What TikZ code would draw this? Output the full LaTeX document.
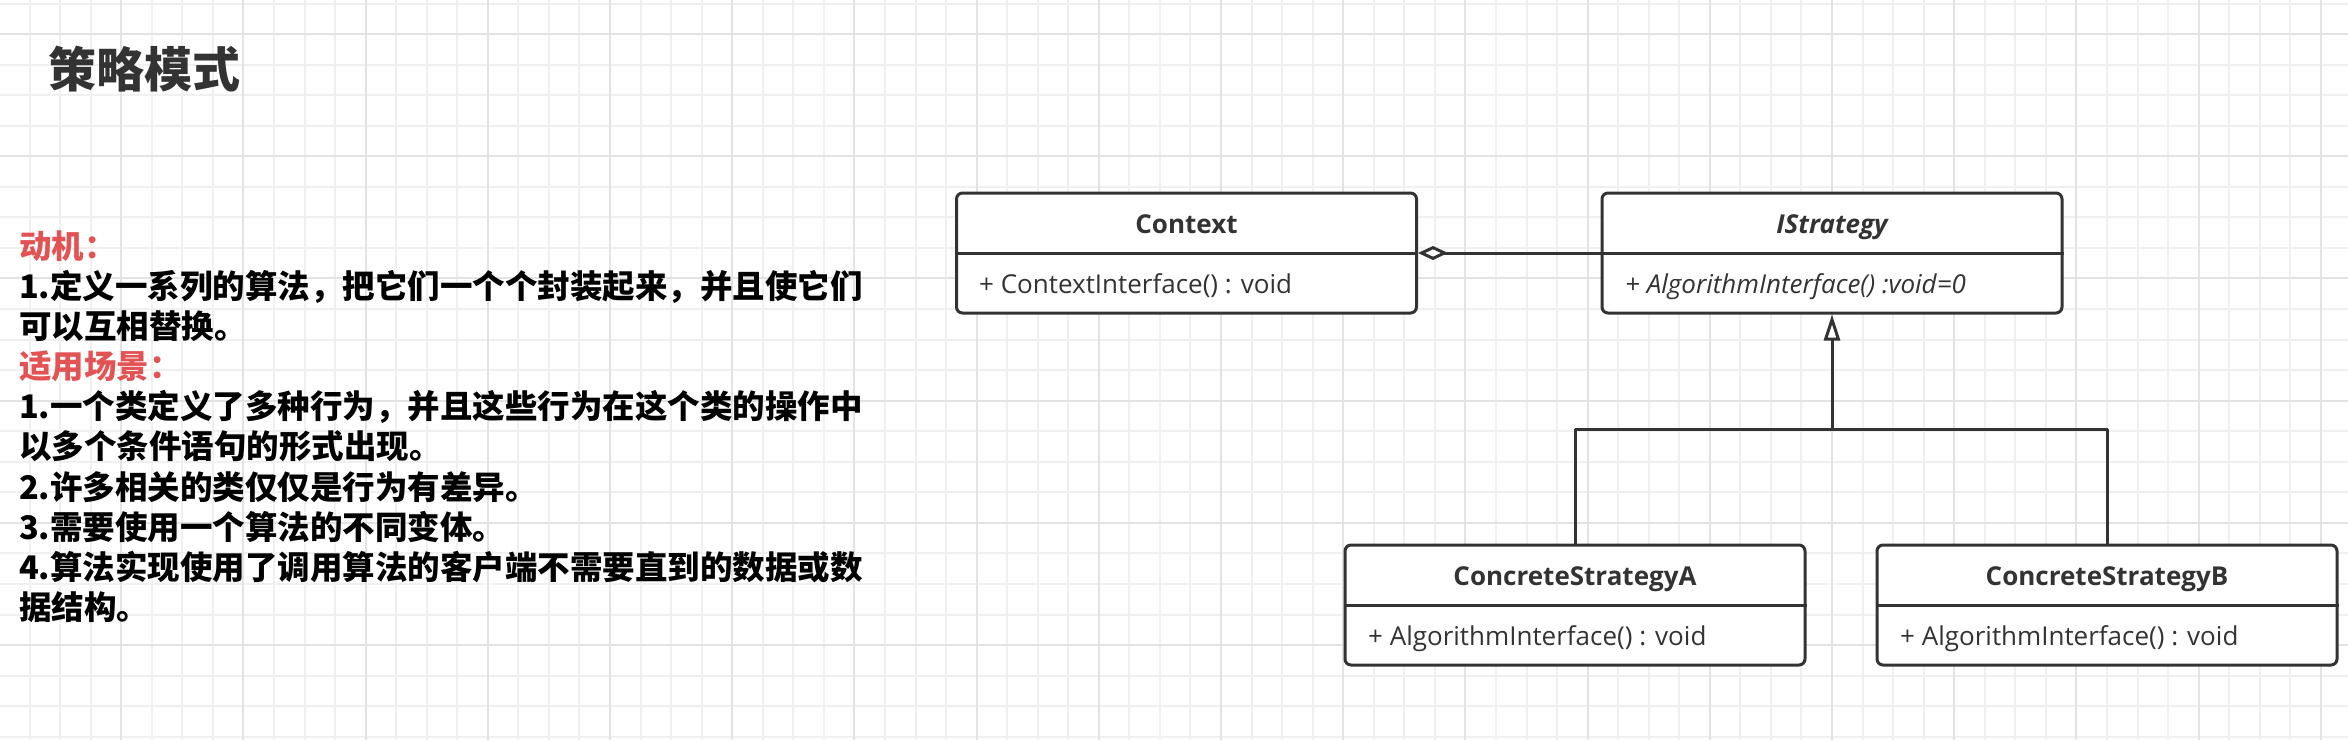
\documentclass[tikz,border=0pt]{standalone}
\usepackage{fontspec}
\setmainfont{Open Sans}
\newfontfamily\cjk{Noto Sans CJK SC}
\usetikzlibrary{arrows.meta}
\definecolor{ink}{HTML}{333333}
\definecolor{hot}{HTML}{E35353}
\definecolor{gridlo}{HTML}{F0F0F0}
\definecolor{gridhi}{HTML}{E3E3E3}

\begin{document}
\begin{tikzpicture}[x=1pt, y=-1pt, line join=round,
cls/.style ={draw=ink, line width=3pt, rounded corners=6pt, fill=white, minimum width=460pt, minimum height=120pt, inner sep=0pt},
clsname/.style ={anchor=base, text=ink, inner sep=0pt, font=\fontsize{26}{30}\selectfont\bfseries},
member/.style ={anchor=base west, text=ink, inner sep=0pt, font=\fontsize{26}{30}\selectfont},
cjktext/.style ={anchor=base west, inner sep=0pt, font=\cjk\bfseries\fontsize{32.5}{40}\selectfont},
link/.style ={draw=ink, line width=3pt}]

\clip (0,0) rectangle (2348,740);
\fill[white] (0,0) rectangle (2348,740);

\foreach \i in {0,...,77} \draw[gridlo, line width=2pt] ({-1+30.55*\i},0) -- ({-1+30.55*\i},740);
\foreach \j in {0,...,24} \draw[gridlo, line width=2pt] (0,{3.5+30.55*\j}) -- (2348,{3.5+30.55*\j});
\foreach \i in {0,...,19} \draw[gridhi, line width=2pt] ({-1+122.2*\i},0) -- ({-1+122.2*\i},740);
\foreach \j in {0,...,5} \draw[gridhi, line width=2pt] (0,{34+122.2*\j}) -- (2348,{34+122.2*\j});

\node[cjktext, text=ink, font=\cjk\bfseries\fontsize{48}{56}\selectfont] (heading) at (48,87.5) {策略模式};

\node[cjktext, text=hot] (why) at (19,258.4) {动机：};
\node[cjktext] (why1) at (19,298.5) {1.定义一系列的算法，把它们一个个封装起来，并且使它们};
\node[cjktext] (why2) at (19,338.6) {可以互相替换。};
\node[cjktext, text=hot] (use) at (19,378.7) {适用场景：};
\node[cjktext] (use1) at (19,418.8) {1.一个类定义了多种行为，并且这些行为在这个类的操作中};
\node[cjktext] (use1b) at (19,458.9) {以多个条件语句的形式出现。};
\node[cjktext] (use2) at (19,499.0) {2.许多相关的类仅仅是行为有差异。};
\node[cjktext] (use3) at (19,539.1) {3.需要使用一个算法的不同变体。};
\node[cjktext] (use4) at (19,579.2) {4.算法实现使用了调用算法的客户端不需要直到的数据或数};
\node[cjktext] (use4b) at (19,619.3) {据结构。};

\node[cls] (ctx) at (1186.5,253) {};
\node[cls] (strat) at (1832,253) {};
\node[cls] (ca) at (1575,605) {};
\node[cls] (cb) at (2107,605) {};

\draw[link] (ctx.west) -- (ctx.east);
\draw[link] (strat.west) -- (strat.east);
\draw[link] (ca.west) -- (ca.east);
\draw[link] (cb.west) -- (cb.east);

\node[clsname] (ctxname) at (1186.5,233) {Context};
\node[member] (ctxop) at (979,293) {+ ContextInterface() : void};
\node[clsname, font=\fontsize{26}{30}\selectfont\bfseries\itshape] (stratname) at (1832,233) {IStrategy};
\node[member, font=\fontsize{26}{30}\selectfont\itshape] (stratop) at (1625,293) {+ AlgorithmInterface() :void=0};
\node[clsname] (caname) at (1575,585) {ConcreteStrategyA};
\node[member] (caop) at (1368,645) {+ AlgorithmInterface() : void};
\node[clsname] (cbname) at (2107,585) {ConcreteStrategyB};
\node[member] (cbop) at (1900,645) {+ AlgorithmInterface() : void};

\draw[link, {Diamond[fill=white, length=30pt, width=14pt]}-] (ctx.east) -- (strat.west);
\coordinate (fork) at (1832,429);
\draw[link, -{Triangle[fill=white, length=26pt, width=16pt]}] (fork) -- (strat.south);
\draw[link] (ca.north) |- (fork) -| (cb.north);

\end{tikzpicture}
\end{document}
